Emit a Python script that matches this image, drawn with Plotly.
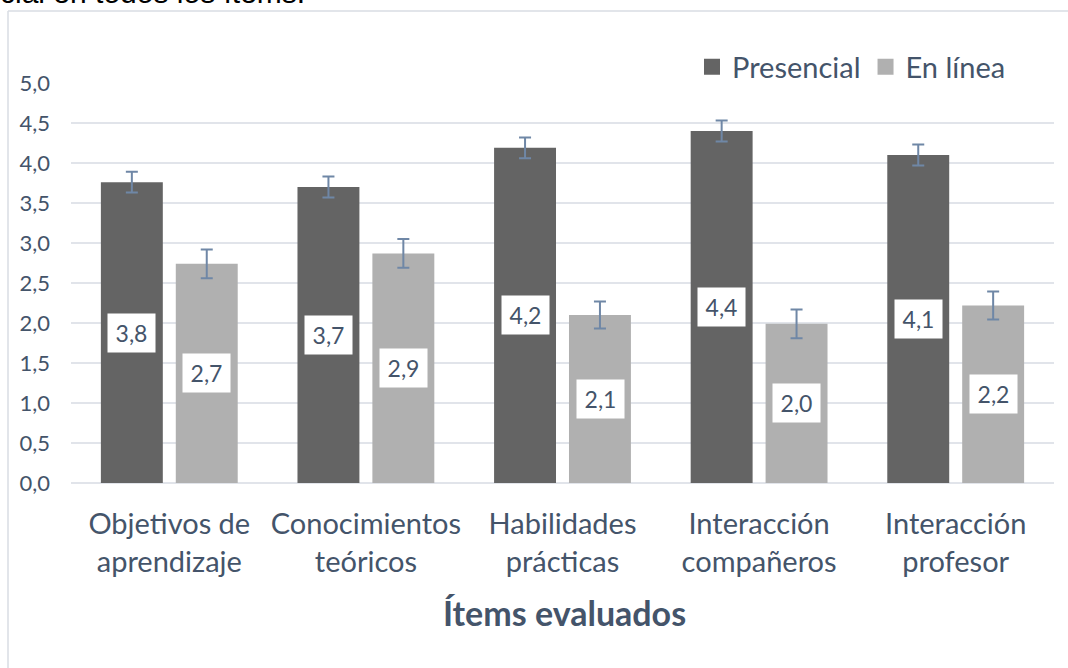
import plotly.graph_objects as go

categories = ["Objetivos de<br>aprendizaje", "Conocimientos<br>teóricos", "Habilidades<br>prácticas",
              "Interacción<br>compañeros", "Interacción<br>profesor"]
presencial = [3.76, 3.70, 4.19, 4.40, 4.10]
presencial_err = [0.13, 0.13, 0.13, 0.13, 0.13]
en_linea = [2.74, 2.87, 2.10, 1.99, 2.22]
en_linea_err = [0.18, 0.18, 0.17, 0.18, 0.175]
yticks = [0, 0.5, 1, 1.5, 2, 2.5, 3, 3.5, 4, 4.5, 5]

W, H = 1068, 668
TXT = "#44546A"
FONT = "Lato"
ERR = "#6F87A6"
C_PRES = "#646464"
C_LINEA = "#B0B0B0"

fig = go.Figure()
fig.add_trace(go.Bar(
    name="Presencial", x=categories, y=presencial, showlegend=False,
    marker=dict(color=C_PRES, line=dict(width=0)),
    width=0.315, offset=-0.348,
    error_y=dict(type="data", array=presencial_err, color=ERR, thickness=2, width=6),
))
fig.add_trace(go.Bar(
    name="En línea", x=categories, y=en_linea, showlegend=False,
    marker=dict(color=C_LINEA, line=dict(width=0)),
    width=0.315, offset=0.033,
    error_y=dict(type="data", array=en_linea_err, color=ERR, thickness=2, width=6),
))
# legend entries with larger square swatches
for nm, col in (("Presencial", C_PRES), ("En línea", C_LINEA)):
    fig.add_trace(go.Scatter(
        name=nm, x=[None], y=[None], mode="markers",
        marker=dict(symbol="square", size=16, color=col), hoverinfo="skip",
    ))

annotations = []
for vals, shift in ((presencial, -37.5), (en_linea, 37.5)):
    for c, v in zip(categories, vals):
        annotations.append(dict(
            x=c, y=v / 2, xref="x", yref="y", xshift=shift,
            text=f"{v:.1f}".replace(".", ","), showarrow=False,
            bgcolor="white", width=47, height=38, borderpad=0,
            font=dict(family=FONT, size=23, color=TXT),
        ))

annotations.append(dict(
    x=564 / W, y=(H - 612) / H, xref="paper", yref="paper",
    text="<b>Ítems evaluados</b>", showarrow=False,
    font=dict(family=FONT, size=34, color=TXT), xanchor="center", yanchor="middle",
))
annotations.append(dict(
    x=-2 / W, y=1, xref="paper", yref="paper", xanchor="left", yanchor="middle", yshift=8,
    text="cial en todos los ítems.", showarrow=False,
    font=dict(family="Liberation Sans", size=30, color="#000000"),
))

shapes = [
    dict(type="line", xref="paper", yref="paper", x0=8 / W, x1=1, y0=(H - 11) / H, y1=(H - 11) / H,
         line=dict(color="#D9DCE3", width=1.5)),
    dict(type="line", xref="paper", yref="paper", x0=8 / W, x1=8 / W, y0=0, y1=(H - 11) / H,
         line=dict(color="#D9DCE3", width=1.5)),
]

fig.update_layout(
    width=W, height=H,
    margin=dict(l=0, r=0, t=0, b=0, autoexpand=False),
    paper_bgcolor="white", plot_bgcolor="white",
    separators=", ",
    font=dict(family=FONT, color=TXT),
    showlegend=True,
    legend=dict(orientation="h", x=692 / W, xanchor="left", y=(H - 67) / H, yanchor="middle",
                font=dict(family=FONT, size=29, color=TXT), bgcolor="rgba(0,0,0,0)",
                traceorder="normal", itemwidth=30),
    xaxis=dict(domain=[71 / W, 1054 / W], range=[-0.5, 4.5], showgrid=False, automargin=False,
               tickfont=dict(family=FONT, size=29, color=TXT), ticks="", ticklabelstandoff=21,
               showline=False, zeroline=False),
    yaxis=dict(domain=[(H - 483) / H, (H - 83) / H], range=[0, 5], tickvals=yticks, automargin=False,
               tickformat=".1f", showgrid=True, gridcolor="#E1E4EA", gridwidth=1.5,
               zeroline=True, zerolinecolor="#E1E4EA", zerolinewidth=1.5,
               tickfont=dict(family=FONT, size=22, color=TXT), ticks="", ticklabelstandoff=20,
               showline=False),
    annotations=annotations,
    shapes=shapes,
)

fig.write_html("out.html", config={"displayModeBar": False},
               post_script="document.body.style.margin='0';document.body.style.overflow='hidden';")
